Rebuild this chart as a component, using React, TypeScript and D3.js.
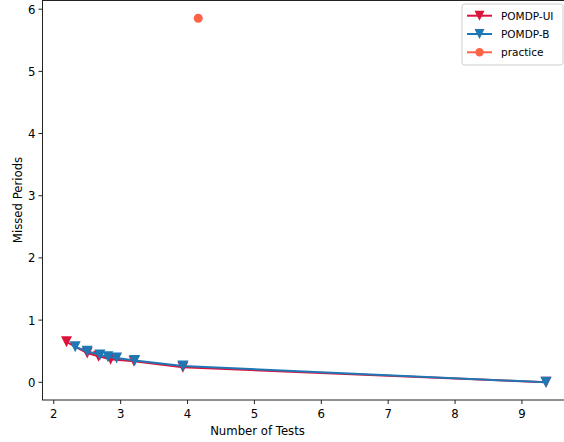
import React from 'react';
import * as d3 from 'd3';

// values
const uiTests = [2.19, 2.5, 2.67, 2.85, 3.2, 3.93, 9.36];
const uiMissed = [0.65, 0.47, 0.42, 0.37, 0.34, 0.24, 0.0];

const bTests = [2.32, 2.5, 2.69, 2.81, 2.94, 3.21, 3.93, 9.36];
const bMissed = [0.57, 0.5, 0.44, 0.41, 0.39, 0.35, 0.26, 0.0];

const practiceTests = [4.16];
const practiceMissed = [5.855];

const xTicks = [2, 3, 4, 5, 6, 7, 8, 9];
const yTicks = [0, 1, 2, 3, 4, 5, 6];

const seriesNames = ['POMDP-UI', 'POMDP-B', 'practice'];
const seriesColors = ['#dc143c', '#1f77b4', '#ff6347'];

const W = 564;
const H = 442;
const font = '"DejaVu Sans", sans-serif';
const fs = 11.7;

const tri = (cx: number, cy: number, s: number) =>
  `M${cx - s / 2},${cy - s / 2}L${cx + s / 2},${cy - s / 2}L${cx},${cy + s / 2}Z`;

const App = () => {
  const left = 42.5, right = 570, top = 0, bottom = 400;
  const x = d3.scaleLinear().domain([1.8315, 9.7185]).range([left, right]);
  const y = d3.scaleLinear().domain([-0.285, 6.148]).range([bottom, top]);

  const line = d3.line<[number, number]>().x(d => x(d[0])).y(d => y(d[1]));
  const ui = uiTests.map((t, i) => [t, uiMissed[i]] as [number, number]);
  const b = bTests.map((t, i) => [t, bMissed[i]] as [number, number]);
  const pr = practiceTests.map((t, i) => [t, practiceMissed[i]] as [number, number]);

  const lx = 462, ly = 4;

  return (
    <div style={{ position: 'absolute', left: 0, top: 0 }}>
      <svg width={W} height={H} style={{ display: 'block', background: '#fff' }}>
        <rect x={0} y={0} width={W} height={H} fill="#fff" />
        {/* data */}
        <path d={line(ui) || ''} fill="none" stroke={seriesColors[0]} strokeWidth={2} />
        {ui.map((d, i) => (
          <path key={'u' + i} d={tri(x(d[0]), y(d[1]), 11)} fill={seriesColors[0]} />
        ))}
        <path d={line(b) || ''} fill="none" stroke={seriesColors[1]} strokeWidth={2} />
        {b.map((d, i) => (
          <path key={'b' + i} d={tri(x(d[0]), y(d[1]), 11)} fill={seriesColors[1]} />
        ))}
        {pr.map((d, i) => (
          <circle key={'p' + i} cx={x(d[0])} cy={y(d[1])} r={4.5} fill={seriesColors[2]} />
        ))}

        {/* spines */}
        <rect x={left} y={top + 0.5} width={right - left} height={bottom - top - 0.5} fill="none" stroke="#222" strokeWidth={1} />

        {/* x axis */}
        {xTicks.map(t => (
          <g key={'x' + t}>
            <line x1={x(t)} x2={x(t)} y1={bottom} y2={bottom + 4} stroke="#222" />
            <text x={x(t)} y={bottom + 18} textAnchor="middle" fontFamily={font} fontSize={fs} fill="#000">{t}</text>
          </g>
        ))}
        <text x={257.5} y={435} textAnchor="middle" fontFamily={font} fontSize={fs}>Number of Tests</text>

        {/* y axis */}
        {yTicks.map(t => (
          <g key={'y' + t}>
            <line x1={left - 4} x2={left} y1={y(t)} y2={y(t)} stroke="#222" />
            <text x={left - 7} y={y(t) + 4.5} textAnchor="end" fontFamily={font} fontSize={fs} fill="#000">{t}</text>
          </g>
        ))}
        <text transform={`translate(22,${(top + bottom) / 2}) rotate(-90)`} textAnchor="middle" fontFamily={font} fontSize={fs}>Missed Periods</text>

        {/* legend */}
        <rect x={lx} y={ly} width={101} height={61} rx={2.5} fill="#fff" fillOpacity={0.8} stroke="#ccc" />
        {seriesNames.map((n, i) => {
          const cy = ly + 11.7 + i * 18.3;
          return (
            <g key={n}>
              <line x1={lx + 5} x2={lx + 30} y1={cy} y2={cy} stroke={seriesColors[i]} strokeWidth={2} />
              {i < 2 ? (
                <path d={tri(lx + 17.5, cy, 10)} fill={seriesColors[i]} />
              ) : (
                <circle cx={lx + 17.5} cy={cy} r={4.2} fill={seriesColors[i]} />
              )}
              <text x={lx + 39} y={cy + 4} fontFamily={font} fontSize={10.5} fill="#000">{n}</text>
            </g>
          );
        })}
      </svg>
    </div>
  );
};

export default App;
